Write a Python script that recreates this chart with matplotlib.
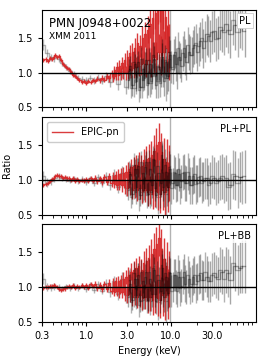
import matplotlib
matplotlib.use("Agg")
import matplotlib.pyplot as plt
from matplotlib.ticker import FixedLocator, FixedFormatter, NullFormatter

# epic-pn bins (keV) and ratios for the three models
red_e = [0.31, 0.33, 0.35, 0.37, 0.39, 0.41, 0.43, 0.45, 0.47, 0.50,
         0.53, 0.56, 0.59, 0.62, 0.66, 0.70, 0.74, 0.78, 0.83, 0.88,
         0.93, 0.99, 1.05, 1.12, 1.19, 1.27, 1.35, 1.44, 1.53, 1.63,
         1.74, 1.85,
         2.00, 2.07, 2.14, 2.22, 2.30, 2.38, 2.46, 2.55, 2.64, 2.73,
         2.83, 2.93, 3.03, 3.14, 3.25, 3.36, 3.48, 3.60, 3.73, 3.86,
         4.00, 4.14, 4.28, 4.43, 4.59, 4.75, 4.92, 5.09, 5.27, 5.45,
         5.64, 5.84, 6.05, 6.26, 6.48, 6.71, 6.94, 7.18, 7.43, 7.69,
         7.96, 8.24, 8.53, 8.83, 9.14, 9.46]
red_err = [0.03, 0.03, 0.03, 0.03, 0.03, 0.03, 0.03, 0.03, 0.03, 0.03,
           0.03, 0.03, 0.03, 0.03, 0.03, 0.03, 0.03, 0.03, 0.03, 0.03,
           0.03, 0.03, 0.03, 0.03, 0.03, 0.035, 0.035, 0.04, 0.04, 0.04,
           0.045, 0.05,
           0.05, 0.06, 0.06, 0.06, 0.07, 0.07, 0.08, 0.08, 0.09, 0.09,
           0.10, 0.10, 0.11, 0.11, 0.12, 0.12, 0.13, 0.13, 0.14, 0.14,
           0.15, 0.15, 0.16, 0.16, 0.17, 0.17, 0.18, 0.18, 0.19, 0.19,
           0.20, 0.21, 0.22, 0.22, 0.23, 0.24, 0.25, 0.26, 0.27, 0.28,
           0.29, 0.30, 0.32, 0.34, 0.36, 0.40]
red_pl = [1.18, 1.19, 1.17, 1.21, 1.20, 1.23, 1.25, 1.22, 1.24, 1.18,
          1.12, 1.10, 1.07, 1.05, 1.01, 0.97, 0.95, 0.92, 0.89, 0.86,
          0.88, 0.85, 0.88, 0.86, 0.90, 0.88, 0.91, 0.89, 0.93, 0.90,
          0.95, 0.92,
          0.99, 0.93, 1.04, 0.95, 1.08, 0.96, 1.10, 0.98, 1.14, 1.00,
          1.18, 0.99, 1.22, 1.02, 1.28, 1.04, 1.30, 1.06, 1.36, 1.08,
          1.42, 1.10, 1.38, 1.12, 1.50, 1.14, 1.55, 1.12, 1.62, 1.18,
          1.70, 1.15, 1.78, 1.22, 1.86, 1.20, 1.95, 1.30, 2.00, 1.25,
          1.92, 1.30, 1.80, 1.35, 1.65, 1.30]
red_plpl = [0.93, 0.94, 0.96, 0.98, 1.01, 1.03, 1.06, 1.07, 1.05, 1.06,
            1.03, 1.04, 1.02, 1.03, 1.00, 1.02, 0.99, 1.01, 0.98, 1.00,
            0.99, 1.01, 0.98, 1.02, 0.99, 1.03, 0.98, 1.02, 0.97, 1.04,
            0.97, 1.05,
            0.95, 1.06, 0.94, 1.07, 0.93, 1.08, 0.94, 1.09, 0.92, 1.10,
            0.90, 1.12, 0.88, 1.15, 0.90, 1.18, 0.86, 1.20, 0.88, 1.22,
            0.85, 1.25, 0.88, 1.20, 0.84, 1.28, 0.86, 1.30, 0.82, 1.32,
            0.85, 1.35, 0.80, 1.42, 0.84, 1.50, 0.82, 1.55, 0.80, 1.40,
            0.85, 1.30, 0.82, 1.25, 0.90, 1.10]
red_plbb = [0.99, 1.00, 1.00, 1.01, 1.02, 1.03, 1.01, 1.00, 0.97, 0.96,
            0.97, 0.98, 1.00, 1.02, 1.00, 1.03, 0.99, 1.02, 1.00, 1.03,
            1.00, 1.03, 0.99, 1.04, 1.01, 1.05, 0.98, 1.03, 0.97, 1.05,
            0.97, 1.06,
            0.95, 1.07, 0.93, 1.08, 0.94, 1.09, 0.92, 1.10, 0.93, 1.12,
            0.90, 1.15, 0.88, 1.18, 0.90, 1.22, 0.86, 1.25, 0.88, 1.28,
            0.85, 1.30, 0.88, 1.25, 0.84, 1.35, 0.86, 1.38, 0.82, 1.42,
            0.86, 1.48, 0.82, 1.55, 0.85, 1.62, 0.84, 1.70, 0.82, 1.55,
            0.88, 1.40, 0.85, 1.30, 0.90, 1.12]

# mos bins (grey)
mos_e = [0.31, 0.34, 0.38, 0.42, 0.47, 0.52, 0.58, 0.65, 0.72, 0.80,
         0.89, 0.99, 1.10, 1.23, 1.37, 1.53, 1.70, 1.90, 2.12, 2.36,
         2.63, 2.93, 3.27, 3.64, 4.06, 4.52, 5.04, 5.62, 6.26, 6.98,
         7.78, 8.67, 9.80]
mos_err = [0.08, 0.06, 0.05, 0.05, 0.05, 0.04, 0.04, 0.04, 0.04, 0.04,
           0.04, 0.04, 0.04, 0.05, 0.05, 0.05, 0.06, 0.07, 0.08, 0.09,
           0.10, 0.11, 0.12, 0.13, 0.14, 0.16, 0.18, 0.20, 0.22, 0.25,
           0.28, 0.32, 0.80]
mos_pl = [1.40, 1.28, 1.22, 1.21, 1.20, 1.14, 1.08, 1.02, 0.98, 0.93,
          0.91, 0.90, 0.93, 0.89, 0.93, 0.88, 0.95, 0.87, 0.98, 0.84,
          1.02, 0.80, 1.05, 0.78, 1.10, 0.80, 1.12, 0.85, 1.18, 0.88,
          1.22, 0.92, 1.20]
mos_plpl = [1.05, 0.96, 0.98, 1.02, 1.05, 1.03, 1.01, 0.99, 1.02, 0.98,
            1.01, 0.97, 1.02, 0.96, 1.04, 0.95, 1.05, 0.93, 1.07, 0.90,
            1.10, 0.88, 1.12, 0.85, 1.18, 0.82, 1.22, 0.80, 1.30, 0.76,
            1.25, 0.80, 1.20]
mos_plbb = [1.12, 1.00, 0.99, 1.01, 1.00, 0.98, 1.01, 0.99, 1.02, 0.98,
            1.02, 0.97, 1.03, 0.96, 1.04, 0.95, 1.06, 0.93, 1.08, 0.90,
            1.12, 0.88, 1.15, 0.85, 1.20, 0.82, 1.25, 0.80, 1.30, 0.78,
            1.28, 0.80, 1.20]

# nustar module a (black, transparent)
nusa_e = [3.1, 3.3, 3.5, 3.7, 3.9, 4.1, 4.35, 4.6, 4.85, 5.1,
          5.4, 5.7, 6.0, 6.35, 6.7, 7.1, 7.5, 7.9, 8.35, 8.8,
          9.3, 9.8, 10.4, 11.0, 11.7, 12.4, 13.2, 14.1, 15.1, 16.2,
          17.4, 18.8, 20.3, 22.0, 24.0, 26.3, 29.0, 32.0, 35.5, 39.5,
          44.0, 50.0, 57.0, 65.0, 74.0]
nusa_err = [0.14, 0.14, 0.15, 0.15, 0.15, 0.16, 0.16, 0.16, 0.17, 0.17,
            0.17, 0.18, 0.18, 0.18, 0.19, 0.19, 0.20, 0.20, 0.21, 0.21,
            0.22, 0.22, 0.22, 0.23, 0.23, 0.24, 0.24, 0.25, 0.25, 0.26,
            0.26, 0.27, 0.27, 0.28, 0.28, 0.29, 0.30, 0.30, 0.31, 0.32,
            0.33, 0.34, 0.35, 0.36, 0.38]
nusa_pl = [0.90, 1.10, 0.82, 1.12, 0.88, 1.15, 0.80, 1.05, 0.92, 1.18,
           0.85, 1.12, 0.95, 1.20, 0.82, 1.08, 1.00, 1.22, 0.88, 1.15,
           0.95, 1.25, 1.05, 1.30, 1.00, 1.22, 1.10, 1.35, 1.15, 1.30,
           1.25, 1.40, 1.30, 1.45, 1.35, 1.55, 1.45, 1.60, 1.50, 1.62,
           1.70, 1.55, 1.68, 1.72, 1.60]
nusa_plpl = [0.85, 1.08, 0.80, 1.15, 0.90, 1.20, 0.78, 1.10, 0.88, 1.25,
             0.80, 1.15, 0.92, 1.28, 0.78, 1.10, 0.95, 1.30, 0.82, 1.12,
             0.90, 1.15, 0.95, 1.10, 0.92, 1.08, 0.98, 1.12, 0.95, 1.05,
             0.92, 1.08, 0.95, 1.05, 0.98, 1.02, 0.95, 1.03, 0.98, 1.05,
             1.02, 0.92, 1.06, 1.04, 1.05]
nusa_plbb = [0.85, 1.05, 0.82, 1.12, 0.88, 1.18, 0.80, 1.08, 0.86, 1.22,
             0.82, 1.12, 0.90, 1.25, 0.80, 1.10, 0.95, 1.28, 0.85, 1.15,
             0.92, 1.20, 1.00, 1.18, 0.95, 1.15, 1.02, 1.22, 1.00, 1.12,
             1.05, 1.18, 1.08, 1.20, 1.10, 1.15, 1.08, 1.20, 1.12, 1.22,
             1.25, 1.10, 1.30, 1.28, 1.30]

# nustar module b
nusb_e = [3.2, 3.4, 3.6, 3.8, 4.0, 4.22, 4.47, 4.72, 4.97, 5.25,
          5.55, 5.85, 6.17, 6.52, 6.9, 7.3, 7.7, 8.12, 8.57, 9.05,
          9.55, 10.1, 10.7, 11.35, 12.05, 12.8, 13.65, 14.6, 15.65, 16.8,
          18.1, 19.5, 21.1, 23.0, 25.1, 27.6, 30.5, 33.7, 37.5, 41.7,
          47.0, 53.5, 61.0, 69.5]
nusb_err = [0.15, 0.15, 0.16, 0.16, 0.16, 0.17, 0.17, 0.17, 0.18, 0.18,
            0.18, 0.19, 0.19, 0.19, 0.20, 0.20, 0.21, 0.21, 0.22, 0.22,
            0.23, 0.23, 0.23, 0.24, 0.24, 0.25, 0.25, 0.26, 0.26, 0.27,
            0.27, 0.28, 0.28, 0.29, 0.29, 0.30, 0.31, 0.31, 0.32, 0.33,
            0.34, 0.35, 0.36, 0.38]
nusb_pl = [1.05, 0.78, 1.15, 0.86, 1.08, 0.75, 1.20, 0.90, 1.12, 0.82,
           1.18, 0.88, 1.25, 0.95, 1.10, 0.85, 1.28, 1.00, 1.18, 0.92,
           1.30, 1.08, 1.25, 1.12, 1.35, 1.18, 1.28, 1.22, 1.40, 1.25,
           1.35, 1.42, 1.38, 1.50, 1.45, 1.52, 1.58, 1.48, 1.65, 1.58,
           1.62, 1.75, 1.58, 1.70]
nusb_plpl = [1.12, 0.75, 1.22, 0.82, 1.15, 0.72, 1.25, 0.85, 1.18, 0.78,
             1.25, 0.82, 1.30, 0.88, 1.20, 0.80, 1.35, 0.90, 1.22, 0.85,
             1.18, 0.88, 1.12, 0.92, 1.15, 0.90, 1.10, 0.95, 1.12, 0.92,
             1.06, 0.94, 1.04, 0.96, 1.02, 0.92, 1.05, 0.95, 1.03, 1.00,
             0.90, 1.08, 0.95, 1.04]
nusb_plbb = [1.10, 0.78, 1.20, 0.85, 1.12, 0.74, 1.22, 0.86, 1.15, 0.80,
             1.22, 0.85, 1.28, 0.90, 1.18, 0.82, 1.32, 0.92, 1.20, 0.88,
             1.22, 0.95, 1.18, 1.00, 1.22, 0.98, 1.15, 1.05, 1.18, 1.02,
             1.15, 1.05, 1.18, 1.10, 1.22, 1.08, 1.18, 1.15, 1.25, 1.12,
             1.20, 1.35, 1.25, 1.30]

model_names = ["PL", "PL+PL", "PL+BB"]
red_ratios = [red_pl, red_plpl, red_plbb]
mos_ratios = [mos_pl, mos_plpl, mos_plbb]
nusa_ratios = [nusa_pl, nusa_plpl, nusa_plbb]
nusb_ratios = [nusb_pl, nusb_plpl, nusb_plbb]

x_ticks = [0.3, 1.0, 3.0, 10.0, 30.0]
x_labels = ["0.3", "1.0", "3.0", "10.0", "30.0"]
y_ticks = [0.5, 1.0, 1.5]

RED = "#d62728"


def draw_series(ax, e, r, err, color, alpha, lw=1.0, label=None):
    # stepped ratio with vertical error bars
    line, = ax.step(e, r, where="mid", color=color, alpha=alpha, lw=lw, label=label)
    ax.errorbar(e, r, yerr=err, fmt="none", ecolor=color, alpha=alpha, elinewidth=lw)
    return line


plt.rcParams["font.family"] = "DejaVu Sans"
plt.rcParams["font.size"] = 7

fig, axes = plt.subplots(3, 1, sharex=True, figsize=(2.66, 3.58), dpi=100)
fig.subplots_adjust(left=0.158, right=0.962, top=0.972, bottom=0.101, hspace=0.1)

for i, ax in enumerate(axes):
    draw_series(ax, mos_e, mos_ratios[i], mos_err, "0.4", 0.5)
    pn = draw_series(ax, red_e, red_ratios[i], red_err, RED, 0.9, label="EPIC-pn")
    draw_series(ax, nusa_e, nusa_ratios[i], nusa_err, "black", 0.35)
    draw_series(ax, nusb_e, nusb_ratios[i], nusb_err, "black", 0.3)
    ax.axhline(1.0, color="black", lw=1.0, zorder=5)

    ax.set_xscale("log")
    ax.set_xlim(0.3, 100)
    ax.set_ylim(0.5, 1.9)
    ax.set_yticks(y_ticks)
    ax.set_yticklabels(["0.5", "1.0", "1.5"])
    ax.tick_params(labelsize=7, length=3, width=0.8)
    ax.tick_params(which="minor", length=2, width=0.6)

    if i == 0:
        ax.text(0.975, 0.94, model_names[i], transform=ax.transAxes, ha="right", va="top",
                fontsize=7, zorder=6,
                bbox=dict(boxstyle="square,pad=0.25", fc="white", ec="0.8", lw=0.6))
    else:
        ax.text(0.975, 0.93, model_names[i], transform=ax.transAxes, ha="right", va="top",
                fontsize=7, zorder=6,
                bbox=dict(boxstyle="square,pad=0.2", fc="white", ec="none", alpha=0.8))

    if i == 1:
        leg = ax.legend(handles=[pn], loc="upper left", fontsize=7, handlelength=2.2,
                        borderpad=0.5, framealpha=1.0, edgecolor="0.8")
        leg.set_zorder(6)
        ax.set_ylabel("Ratio", fontsize=7)

axes[0].text(0.033, 0.93, "PMN J0948+0022", transform=axes[0].transAxes,
             fontsize=8.5, va="top", ha="left", zorder=6)
axes[0].text(0.033, 0.775, "XMM 2011", transform=axes[0].transAxes,
             fontsize=6.5, va="top", ha="left", zorder=6)

axes[2].xaxis.set_major_locator(FixedLocator(x_ticks))
axes[2].xaxis.set_major_formatter(FixedFormatter(x_labels))
axes[2].xaxis.set_minor_formatter(NullFormatter())
axes[2].set_xlabel("Energy (keV)", fontsize=7)

fig.savefig("out.png", dpi=100)
